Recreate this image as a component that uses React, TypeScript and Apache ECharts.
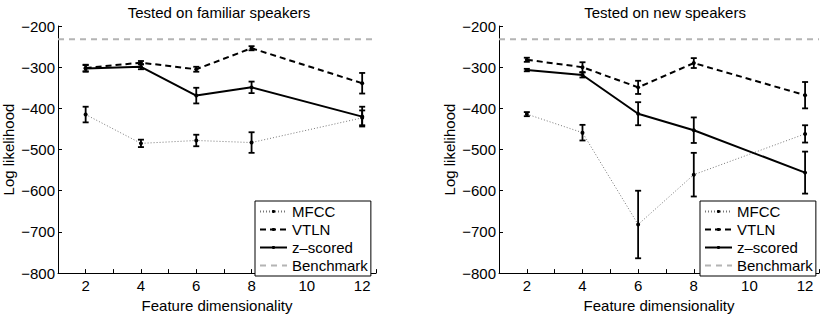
import React, { useEffect, useRef } from "react";
import * as echarts from "echarts";

// Feature dimensionality at which each model was evaluated
const dims = [2, 4, 6, 8, 12];

// Tested on familiar speakers: mean log likelihood and half-width of error bars
const familiarMFCC = [-415, -485, -478, -483, -423];
const familiarMFCCErr = [19, 9, 14, 25, 18];
const familiarVTLN = [-302, -289, -305, -254, -339];
const familiarVTLNErr = [8, 4, 6, 5, 25];
const familiarZ = [-303, -299, -369, -349, -420];
const familiarZErr = [8, 6, 19, 14, 24];

// Tested on new speakers
const newMFCC = [-414, -459, -682, -561, -462];
const newMFCCErr = [5, 19, 82, 53, 21];
const newVTLN = [-282, -300, -349, -290, -368];
const newVTLNErr = [5, 12, 16, 12, 32];
const newZ = [-307, -319, -413, -453, -556];
const newZErr = [3, 6, 28, 31, 51];

// Benchmark log likelihood (same for both test conditions)
const benchmark = -232;

const panelTitles = ["Tested on familiar speakers", "Tested on new speakers"];
const legendNames = ["MFCC", "VTLN", "z\u2013scored", "Benchmark"];

const FONT = "'Liberation Sans', Arial, Helvetica, sans-serif";
const FS = 15;

const minus = (v: number) => (v < 0 ? "\u2212" + Math.abs(v) : String(v));

const toPoints = (vals: number[]) => dims.map((x, i) => [x, vals[i]]);

const errorBarItems = (groups: [number[], number[]][]) => {
  const out: number[][] = [];
  groups.forEach(([vals, errs]) => {
    dims.forEach((x, i) => out.push([x, vals[i] - errs[i], vals[i] + errs[i]]));
  });
  return out;
};

const renderErrorBar = (_params: any, api: any) => {
  const x = api.value(0);
  const lo = api.coord([x, api.value(1)]);
  const hi = api.coord([x, api.value(2)]);
  const cap = 3;
  const style = { stroke: "#000", lineWidth: 1.8 };
  return {
    type: "group",
    children: [
      { type: "line", shape: { x1: lo[0], y1: lo[1], x2: hi[0], y2: hi[1] }, style },
      { type: "line", shape: { x1: lo[0] - cap, y1: lo[1], x2: lo[0] + cap, y2: lo[1] }, style },
      { type: "line", shape: { x1: hi[0] - cap, y1: hi[1], x2: hi[0] + cap, y2: hi[1] }, style },
    ],
  };
};

const panelSeries = (
  p: number,
  mfcc: number[],
  mfccErr: number[],
  vtln: number[],
  vtlnErr: number[],
  z: number[],
  zErr: number[]
) => [
  {
    type: "line",
    name: "Benchmark",
    xAxisIndex: p,
    yAxisIndex: p,
    data: [
      [1, benchmark],
      [12.5, benchmark],
    ],
    symbol: "none",
    itemStyle: { color: "rgba(0,0,0,0)" },
    lineStyle: { color: "#b4b4b4", width: 2, type: [6, 5] },
    z: 1,
  },
  {
    type: "line",
    name: "MFCC",
    xAxisIndex: p,
    yAxisIndex: p,
    data: toPoints(mfcc),
    symbol: "circle",
    symbolSize: 4,
    itemStyle: { color: "#000" },
    lineStyle: { color: "#777", width: 1, type: [1, 2] },
    z: 2,
  },
  {
    type: "line",
    name: "VTLN",
    xAxisIndex: p,
    yAxisIndex: p,
    data: toPoints(vtln),
    symbol: "circle",
    symbolSize: 4,
    itemStyle: { color: "#000" },
    lineStyle: { color: "#000", width: 2, type: [6, 4] },
    z: 2,
  },
  {
    type: "line",
    name: "z\u2013scored",
    xAxisIndex: p,
    yAxisIndex: p,
    data: toPoints(z),
    symbol: "circle",
    symbolSize: 4,
    itemStyle: { color: "#000" },
    lineStyle: { color: "#000", width: 2 },
    z: 2,
  },
  {
    type: "custom",
    name: "errorbars-" + p,
    xAxisIndex: p,
    yAxisIndex: p,
    data: errorBarItems([
      [mfcc, mfccErr],
      [vtln, vtlnErr],
      [z, zErr],
    ]),
    encode: { x: 0, y: [1, 2] },
    renderItem: renderErrorBar,
    z: 3,
  },
];

const xAxisFor = (gridIndex: number) => ({
  type: "value",
  gridIndex,
  min: 1,
  max: 12.5,
  interval: 1,
  name: "Feature dimensionality",
  nameLocation: "middle",
  nameGap: 18,
  nameTextStyle: { fontSize: FS, color: "#000", fontFamily: FONT },
  axisLine: { onZero: false, lineStyle: { color: "#000", width: 1 } },
  axisTick: { inside: true, length: 4, lineStyle: { color: "#000" } },
  axisLabel: {
    fontSize: FS,
    color: "#000",
    fontFamily: FONT,
    margin: 5,
    formatter: (v: number) => (v % 2 === 0 ? String(v) : ""),
  },
  splitLine: { show: false },
});

const yAxisFor = (gridIndex: number) => ({
  type: "value",
  gridIndex,
  min: -800,
  max: -200,
  interval: 100,
  name: "Log likelihood",
  nameLocation: "middle",
  nameGap: 42,
  nameRotate: 90,
  nameTextStyle: { fontSize: FS, color: "#000", fontFamily: FONT },
  axisLine: { onZero: false, lineStyle: { color: "#000", width: 1 } },
  axisTick: { inside: true, length: 4, lineStyle: { color: "#000" } },
  axisLabel: { fontSize: FS, color: "#000", fontFamily: FONT, margin: 3, formatter: minus },
  splitLine: { show: false },
});

const legendFor = (left: number) => ({
  orient: "vertical",
  left,
  top: 201,
  data: legendNames,
  itemWidth: 27,
  itemHeight: 4,
  itemGap: 3,
  padding: [3, 3, 3, 4],
  borderColor: "#000",
  borderWidth: 1,
  backgroundColor: "#fff",
  selectedMode: false,
  textStyle: { fontSize: FS, color: "#000", fontFamily: FONT, padding: [0, 0, 0, 0] },
});

export default function App() {
  const ref = useRef<HTMLDivElement>(null);

  useEffect(() => {
    document.body.style.margin = "0";
    if (!ref.current) return;
    const chart = echarts.init(ref.current, null, { renderer: "svg" });
    chart.setOption({
      animation: false,
      backgroundColor: "#fff",
      textStyle: { fontFamily: FONT },
      title: [
        {
          text: panelTitles[0],
          left: 214,
          top: 0,
          textAlign: "center",
          textStyle: { fontSize: FS, fontWeight: "normal", color: "#000", fontFamily: FONT },
        },
        {
          text: panelTitles[1],
          left: 660,
          top: 0,
          textAlign: "center",
          textStyle: { fontSize: FS, fontWeight: "normal", color: "#000", fontFamily: FONT },
        },
      ],
      grid: [
        { left: 53, top: 26, width: 323, height: 253 },
        { left: 499, top: 26, width: 321, height: 253 },
      ],
      xAxis: [xAxisFor(0), xAxisFor(1)],
      yAxis: [yAxisFor(0), yAxisFor(1)],
      legend: [legendFor(255), legendFor(700)],
      series: [
        ...panelSeries(0, familiarMFCC, familiarMFCCErr, familiarVTLN, familiarVTLNErr, familiarZ, familiarZErr),
        ...panelSeries(1, newMFCC, newMFCCErr, newVTLN, newVTLNErr, newZ, newZErr),
      ],
    });
    return () => chart.dispose();
  }, []);

  return <div ref={ref} style={{ width: 822, height: 318 }} />;
}
